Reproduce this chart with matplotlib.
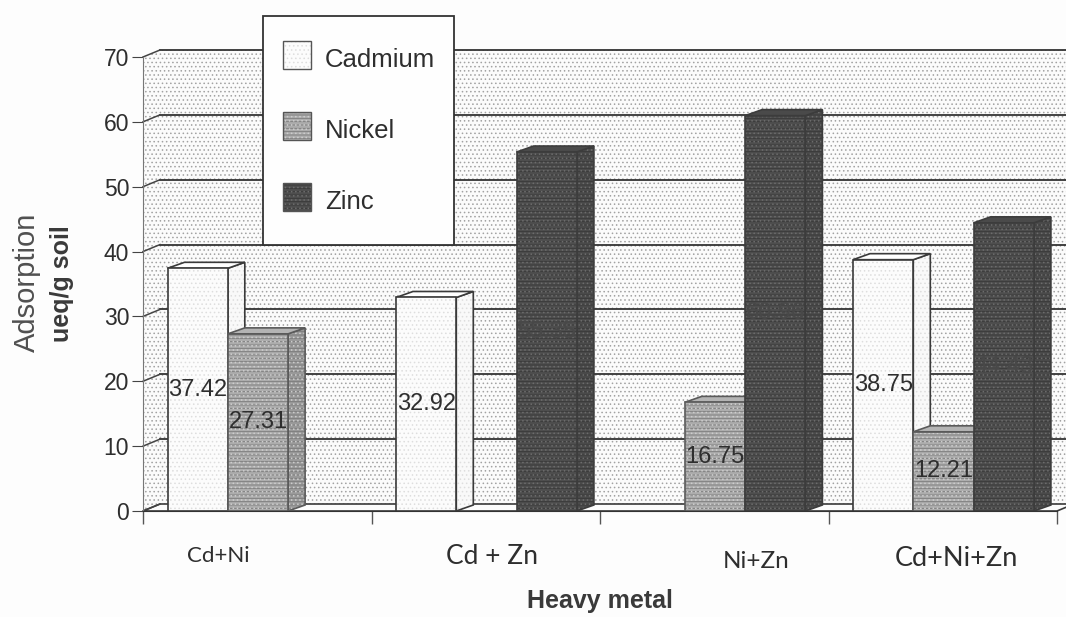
#!/usr/bin/env python3
# -*- coding: utf-8 -*-
"""
Heavy metal adsorption in soil, pseudo-3D bar chart
"""

import matplotlib
matplotlib.use('Agg')
import matplotlib.pyplot as plt
from matplotlib.patches import Polygon, Rectangle

plt.rcParams['font.family'] = ['Liberation Sans', 'DejaVu Sans']
plt.rcParams['hatch.linewidth'] = 0.6

mixtures = ['Cd+Ni', 'Cd + Zn', 'Ni+Zn', 'Cd+Ni+Zn']
metals = ['Cadmium', 'Nickel', 'Zinc']
cadmium = [37.42, 32.92, 0, 38.75]
nickel = [27.31, 0, 16.75, 12.21]
zinc = [0, 55.35, 60.96, 44.43]
y_ticks = [0, 10, 20, 30, 40, 50, 60, 70]

W, H = 1066, 617
fig = plt.figure(figsize=(W / 100, H / 100), dpi=100, facecolor='#fdfdfd')

# main axes: x runs over the four mixtures, y is the adsorption scale
ax = fig.add_axes([143 / W, (H - 511) / H, 914 / W, 454 / H])
ax.set_xlim(0, 4)
ax.set_ylim(0, 70)
ax.patch.set_visible(False)

# depth of the fake 3D box, in data units
DX = 17 / (914 / 4)
DY = 7 / (454 / 70)
BAR_W = 60.3 / (914 / 4)
MARGIN = 24.5 / (914 / 4)
LINE = '#3a3a3a'
TEXT = '#2e2e2e'


def poly(ax, pts, face, edge=LINE, layers=(), lw=1.2, z=1):
    # every hatch layer is its own patch, that is the only way to get several hatch colours
    ax.add_patch(Polygon(pts, closed=True, facecolor=face, lw=0, clip_on=False, zorder=z))
    for pattern, colour in layers:
        ax.add_patch(Polygon(pts, closed=True, fill=False, edgecolor=colour,
                             hatch=pattern, lw=0, clip_on=False, zorder=z))
    if edge:
        ax.add_patch(Polygon(pts, closed=True, fill=False, edgecolor=edge,
                             lw=lw, clip_on=False, zorder=z))


# walls and floor
wall_dots = [('....', '#a2a2a2')]
poly(ax, [(DX, DY), (4 + DX, DY), (4 + DX, 70 + DY), (DX, 70 + DY)], '#fbfbfb', edge=None, layers=wall_dots)
poly(ax, [(0, 0), (DX, DY), (DX, 70 + DY), (0, 70)], '#fbfbfb', edge=None, layers=wall_dots)
poly(ax, [(0, 0), (4, 0), (4 + DX, DY), (DX, DY)], '#fcfcfc', lw=1.2, z=1.5)

for v in y_ticks[1:]:
    ax.plot([DX, 4 + DX], [v + DY, v + DY], color='#333333', lw=1.3, clip_on=False, zorder=1.2)
for v in y_ticks:
    ax.plot([0, DX], [v, v + DY], color='#444444', lw=1.1, clip_on=False, zorder=1.6)

# bar colours per metal: front, side, top, hatch layers on the faces
styles = {
    'Cadmium': dict(front='#fcfcfc', side='#f9f9f9', top='#ffffff',
                    layers=[('....', '#dedede')], edge='#3a3a3a'),
    'Nickel': dict(front='#adadad', side='#9a9a9a', top='#b4b4b4',
                   layers=[('-----', '#7a7a7a'), ('....', '#cdcdcd')], edge='#5a5a5a'),
    'Zinc': dict(front='#4e4e4e', side='#4a4a4a', top='#4a4a4a',
                 layers=[('-----', '#383838'), ('....', '#6c6c6c')], edge='#3c3c3c'),
}
series = {'Cadmium': cadmium, 'Nickel': nickel, 'Zinc': zinc}

z = 3
for i in range(len(mixtures)):
    for j, metal in enumerate(metals):
        v = series[metal][i]
        if v == 0:
            continue
        s = styles[metal]
        x0 = i + MARGIN + j * BAR_W
        x1 = x0 + BAR_W
        dy = 6 / (454 / 70)
        poly(ax, [(x1, 0), (x1 + DX, dy), (x1 + DX, v + dy), (x1, v)], s['side'],
             edge=s['edge'], layers=s['layers'], z=z)
        poly(ax, [(x0, v), (x1, v), (x1 + DX, v + dy), (x0 + DX, v + dy)], s['top'],
             edge=s['edge'], z=z)
        poly(ax, [(x0, 0), (x1, 0), (x1, v), (x0, v)], s['front'],
             edge=s['edge'], layers=s['layers'], z=z + 0.1)
        ax.text((x0 + x1) / 2, v / 2, '%.2f' % v, ha='center', va='center', fontsize=17,
                color=TEXT if metal != 'Zinc' else '#484848', zorder=z + 0.2)
        z += 1

# axes furniture
for name in ('top', 'right'):
    ax.spines[name].set_visible(False)
ax.spines['left'].set_color('#777777')
ax.spines['bottom'].set_color('#333333')
ax.spines['bottom'].set_zorder(30)
ax.set_yticks(y_ticks)
ax.tick_params(axis='y', labelsize=16.5, labelcolor=TEXT, color='#444444', length=8, pad=2)
ax.set_xticks(range(len(mixtures) + 1))
ax.set_xticklabels([])
ax.tick_params(axis='x', color='#555555', length=9, width=1)

# handwritten-looking group names sit off-centre and vary in size
name_x = [218, 492, 756, 956]
name_y = [556, 556, 561, 559]
name_size = [16, 19, 17.5, 19.5]
overlay = fig.add_axes([0, 0, 1, 1], zorder=5)
overlay.set_xlim(0, W)
overlay.set_ylim(H, 0)
overlay.axis('off')
for name, x, y, size in zip(mixtures, name_x, name_y, name_size):
    overlay.text(x, y, name, ha='center', va='center', fontsize=size,
                 color=TEXT, family=['Lato', 'DejaVu Sans'])

overlay.text(600, 601, 'Heavy metal', ha='center', va='center', fontsize=18,
             fontweight='bold', color='#3a3a3a')
overlay.text(27, 282, 'Adsorption', rotation=90, ha='center', va='center', fontsize=21,
             color='#505050')
overlay.text(62, 284, 'ueq/g soil', rotation=90, ha='center', va='center', fontsize=18,
             fontweight='bold', color='#3a3a3a')

# legend box over the back wall
overlay.add_patch(Rectangle((263, 16), 191, 229, facecolor='#fefefe', edgecolor='#333333', lw=1.3))
for metal, y in zip(metals, [41, 112, 183]):
    s = styles[metal]
    overlay.add_patch(Rectangle((283, y), 28, 28, facecolor=s['front'], lw=0))
    for pattern, colour in s['layers']:
        overlay.add_patch(Rectangle((283, y), 28, 28, fill=False, edgecolor=colour, hatch=pattern, lw=0))
    overlay.add_patch(Rectangle((283, y), 28, 28, fill=False, edgecolor='#555555', lw=1.0))
    overlay.text(325, y + 19, metal, ha='left', va='center', fontsize=18.5, color=TEXT)

plt.savefig('out.png', dpi=100)
